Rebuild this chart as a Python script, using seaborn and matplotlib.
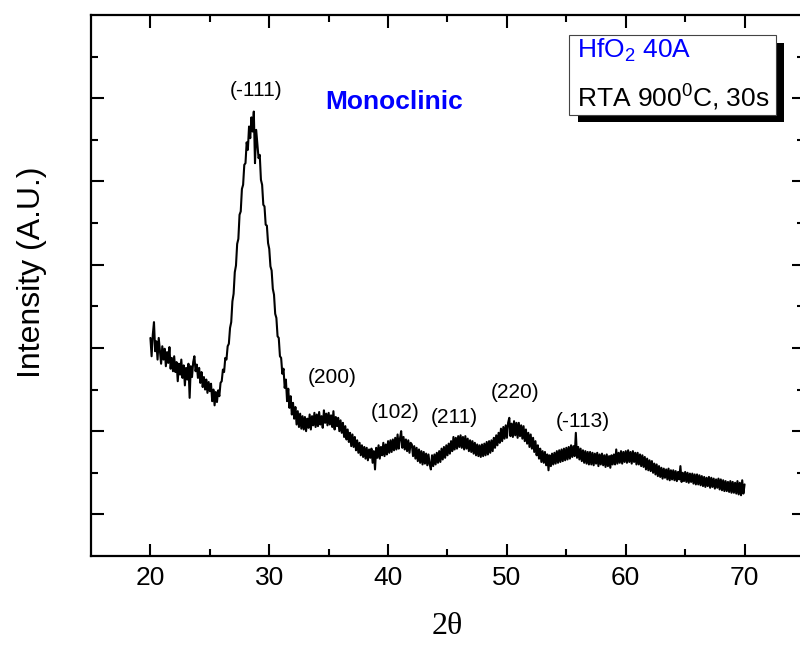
import numpy as np
import pandas as pd
import matplotlib
matplotlib.use("Agg")
import matplotlib.pyplot as plt
import seaborn as sns
from matplotlib.patches import Rectangle

# ---------------- data ----------------
two_theta = np.round(np.linspace(20.0, 70.0, 501), 1)

intensity = [
    262, 240, 266, 281, 246, 258, 236, 262, 247, 231,   # 20
    252, 236, 249, 228, 245, 232, 251, 225, 238, 222,   # 21
    240, 221, 233, 210, 231, 218, 236, 214, 229, 205,   # 22
    226, 212, 231, 190, 228, 215, 233, 240, 222, 230,   # 23
    214, 226, 208, 221, 203, 215, 200, 212, 196, 209,   # 24
    198, 207, 186, 200, 181, 197, 185, 199, 192, 208,   # 25
    210, 224, 221, 238, 236, 252, 255, 274, 281, 306,   # 26
    315, 341, 349, 375, 381, 410, 414, 441, 446, 470,   # 27
    472, 497, 488, 516, 502, 527, 510, 534, 472, 512,   # 28
    495, 478, 482, 452, 446, 422, 420, 398, 397, 376,   # 29
    369, 348, 343, 321, 314, 291, 286, 264, 262, 240,   # 30
    238, 219, 225, 202, 212, 186, 201, 178, 192, 170,   # 31
    184, 165, 179, 158, 174, 155, 171, 153, 168, 152,   # 32
    167, 150, 165, 154, 170, 152, 168, 157, 172, 155,   # 33
    170, 156, 173, 158, 168, 154, 175, 160, 171, 157,   # 34
    172, 158, 169, 155, 174, 152, 167, 156, 166, 150,   # 35
    163, 148, 160, 143, 156, 140, 152, 137, 148, 132,   # 36
    146, 131, 143, 127, 139, 124, 136, 121, 133, 119,   # 37
    131, 117, 130, 115, 128, 118, 129, 112, 126, 104,   # 38
    130, 118, 133, 117, 131, 121, 136, 120, 134, 122,   # 39
    138, 124, 139, 125, 140, 127, 142, 128, 146, 129,   # 40
    141, 150, 130, 143, 128, 140, 126, 139, 124, 136,   # 41
    134, 120, 132, 117, 130, 114, 128, 112, 126, 110,   # 42
    125, 111, 123, 109, 122, 110, 104, 121, 108, 122,   # 43
    110, 124, 112, 126, 113, 129, 116, 131, 118, 133,   # 44
    121, 135, 123, 138, 126, 143, 128, 142, 129, 144,   # 45
    131, 145, 130, 143, 128, 144, 129, 141, 126, 139,   # 46
    125, 138, 123, 136, 121, 134, 120, 133, 119, 134,   # 47
    120, 135, 121, 137, 122, 138, 124, 139, 126, 142,   # 48
    130, 145, 133, 148, 136, 153, 138, 155, 141, 157,   # 49
    142, 160, 166, 144, 159, 143, 162, 145, 160, 142,   # 50
    160, 144, 157, 141, 156, 138, 152, 135, 148, 131,   # 51
    146, 129, 142, 125, 138, 121, 133, 117, 129, 113,   # 52
    126, 112, 125, 109, 122, 103, 121, 108, 123, 110,   # 53
    124, 111, 126, 112, 127, 113, 128, 114, 129, 115,   # 54
    130, 116, 131, 117, 133, 119, 132, 120, 148, 118,   # 55
    131, 116, 129, 114, 127, 112, 126, 111, 125, 110,   # 56
    125, 110, 124, 109, 123, 111, 124, 108, 122, 110,   # 57
    123, 109, 121, 107, 122, 108, 120, 106, 121, 110,   # 58
    122, 110, 128, 111, 124, 112, 126, 111, 125, 113,   # 59
    126, 112, 127, 113, 125, 111, 126, 113, 124, 110,   # 60
    124, 110, 122, 108, 121, 107, 119, 104, 117, 103,   # 61
    115, 102, 114, 100, 111, 98, 110, 96, 108, 95,      # 62
    106, 93, 105, 94, 104, 92, 105, 91, 103, 92,        # 63
    103, 91, 102, 90, 101, 92, 108, 89, 100, 90,        # 64
    101, 89, 100, 88, 99, 89, 99, 87, 98, 86,           # 65
    98, 86, 97, 85, 96, 84, 95, 83, 94, 84,             # 66
    95, 82, 94, 83, 93, 81, 92, 82, 93, 80,             # 67
    92, 79, 91, 78, 90, 78, 89, 77, 90, 76,             # 68
    89, 76, 88, 75, 90, 74, 88, 73, 91, 75,             # 69
    86,                                                 # 70
]

peak_labels = ["(-111)", "(200)", "(102)", "(211)", "(220)", "(-113)"]
peak_x = [28.9, 35.3, 40.6, 45.6, 50.7, 56.4]
peak_y = [559, 214, 173, 166, 196, 161]

phase_label = "Monoclinic"
sample_line = "HfO$_\\mathrm{2}$ 40A"
anneal_line = "RTA 900$^\\mathrm{0}$C, 30s"

x_major = [20, 30, 40, 50, 60, 70]
x_minor = [25, 35, 45, 55, 65]
y_major = [50, 150, 250, 350, 450, 550]
y_minor = [100, 200, 300, 400, 500, 600]

# ---------------- style ----------------
sns.set_theme(style="ticks")
plt.rcParams["font.family"] = ["Liberation Sans", "DejaVu Sans"]
plt.rcParams["text.color"] = "black"
plt.rcParams["axes.labelcolor"] = "black"
plt.rcParams["xtick.color"] = "black"
plt.rcParams["ytick.color"] = "black"
plt.rcParams["mathtext.fontset"] = "custom"
plt.rcParams["mathtext.rm"] = "Liberation Sans"
plt.rcParams["mathtext.it"] = "Liberation Sans:italic"
plt.rcParams["mathtext.bf"] = "Liberation Sans:bold"

W, H = 800, 648
fig = plt.figure(figsize=(W / 100, H / 100), dpi=100)
fig.patch.set_facecolor("white")
ax = fig.add_axes([91 / W, (H - 556) / H, 713 / W, 541 / H])
ax.set_facecolor("white")

df = pd.DataFrame({"two_theta": two_theta, "intensity": intensity})
sns.lineplot(data=df, x="two_theta", y="intensity", ax=ax, color="black",
             lw=1.5, estimator=None, sort=False)

ax.set_xlim(15, 75)
ax.set_ylim(0, 650)
ax.set_xticks(x_major)
ax.set_xticks(x_minor, minor=True)
ax.set_yticks(y_major)
ax.set_yticks(y_minor, minor=True)
ax.set_yticklabels([])
ax.tick_params(which="both", direction="in", top=True, right=True,
               width=1.5, color="black", labelcolor="black")
ax.tick_params(which="major", length=9, labelsize=19, pad=7)
ax.tick_params(which="minor", length=5)
for s in ax.spines.values():
    s.set_linewidth(1.6)
    s.set_color("black")

ax.set_xlabel("2\u03b8", family=["Liberation Serif", "DejaVu Serif"],
              fontsize=23, color="black")
ax.xaxis.set_label_coords(0.5, -0.104)
ax.set_ylabel("Intensity (A.U.)", fontsize=23, color="black")
ax.yaxis.set_label_coords(-0.062, 0.525)

for lab, px, py in zip(peak_labels, peak_x, peak_y):
    ax.text(px, py, lab, ha="center", va="center", fontsize=15, color="black")

ax.text(40.5, 545, phase_label, ha="center", va="center", fontsize=19,
        color="#0000ff", fontweight="bold")

# sample box with drop shadow
fig.add_artist(Rectangle((578 / W, 1 - 122 / H), 206 / W, 79 / H,
                         transform=fig.transFigure, facecolor="black",
                         edgecolor="none", zorder=5))
fig.add_artist(Rectangle((569 / W, 1 - 115 / H), 207 / W, 80 / H,
                         transform=fig.transFigure, facecolor="white",
                         edgecolor="#444444", lw=0.8, zorder=6))
fig.text(577 / W, 1 - 58 / H, sample_line, ha="left", va="baseline",
         fontsize=19, color="#0000ff", zorder=7)
fig.text(577 / W, 1 - 107 / H, anneal_line, ha="left", va="baseline",
         fontsize=19, color="black", zorder=7)

fig.savefig("out.png", dpi=100)
